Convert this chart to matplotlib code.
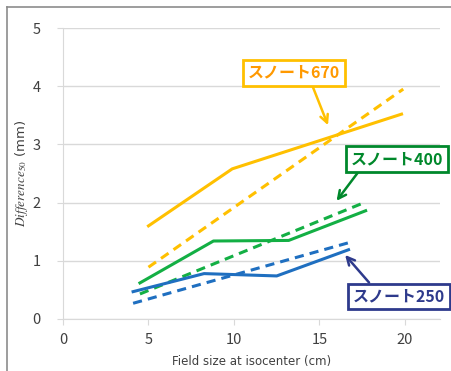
import matplotlib.pyplot as plt
from matplotlib.lines import Line2D

plt.rcParams['font.family'] = ['Noto Sans CJK JP', 'DejaVu Sans']
plt.rcParams['mathtext.fontset'] = 'stix'

# ---- data ----
orange_solid_x = [5.0, 9.9, 19.8]
orange_solid_y = [1.60, 2.58, 3.52]
orange_dash_x = [5.0, 19.9]
orange_dash_y = [0.89, 3.95]

green_solid_x = [4.5, 8.8, 13.2, 17.7]
green_solid_y = [0.62, 1.34, 1.35, 1.86]
green_dash_x = [4.5, 17.7]
green_dash_y = [0.43, 2.01]

blue_solid_x = [4.1, 8.25, 12.5, 16.7]
blue_solid_y = [0.47, 0.78, 0.74, 1.19]
blue_dash_x = [4.1, 16.7]
blue_dash_y = [0.27, 1.31]

x_ticks = [0, 5, 10, 15, 20]
y_ticks = [0, 1, 2, 3, 4, 5]

ORANGE = '#FFC000'
GREEN = '#13AF44'
BLUE = '#1F6FC0'

fig = plt.figure(figsize=(4.51, 3.71), dpi=100)
ax = fig.add_axes([63 / 451, 1 - 319 / 371, (440 - 63) / 451, (319 - 28) / 371])

lw = 2.2
ax.plot(orange_solid_x, orange_solid_y, color=ORANGE, lw=lw)
ax.plot(orange_dash_x, orange_dash_y, color=ORANGE, lw=lw, ls=(0, (3, 2)))
ax.plot(green_solid_x, green_solid_y, color=GREEN, lw=lw)
ax.plot(green_dash_x, green_dash_y, color=GREEN, lw=lw, ls=(0, (3, 2)))
ax.plot(blue_solid_x, blue_solid_y, color=BLUE, lw=lw)
ax.plot(blue_dash_x, blue_dash_y, color=BLUE, lw=lw, ls=(0, (3, 2)))

ax.set_xlim(0, 22.05)
ax.set_ylim(0, 5)
ax.set_xticks(x_ticks)
ax.set_yticks(y_ticks)
ax.grid(axis='y', color='#D9D9D9', lw=1)
ax.set_axisbelow(True)
for s in ['top', 'right']:
    ax.spines[s].set_visible(False)
ax.spines['left'].set_color('#D9D9D9')
ax.spines['bottom'].set_color('#D9D9D9')
ax.tick_params(axis='both', colors='#D9D9D9', labelcolor='#404040', labelsize=10.5, length=4)
ax.tick_params(axis='y', pad=12)
ax.tick_params(axis='x', pad=6)

ax.set_xlabel('Field size at isocenter (cm)', fontsize=8.5, color='#404040', labelpad=6,
              family='DejaVu Sans')
ax.set_ylabel(r'$\mathit{Difference}_{\mathit{50}}$ (mm)', fontsize=9.5, color='#404040',
              labelpad=2, family='DejaVu Sans')

# ---- annotation boxes with arrows ----
def label(text, xy, xytext, tcolor, ecolor, relpos):
    ax.annotate(text, xy=xy, xytext=xytext, textcoords='data',
                fontsize=11.5, fontweight='bold', color=tcolor, ha='center', va='center',
                bbox=dict(boxstyle='square,pad=0.3', fc='white', ec=ecolor, lw=2),
                arrowprops=dict(arrowstyle='->', color=ecolor, lw=1.8, relpos=relpos,
                                mutation_scale=14, shrinkA=0, shrinkB=0),
                annotation_clip=False)

label('スノート670', (15.5, 3.33), (13.5, 4.23), '#FF9900', ORANGE, (0.68, 0))
label('スノート400', (16.0, 2.03), (19.55, 2.75), '#00882B', '#00882B', (0.12, 0))
label('スノート250', (16.5, 1.10), (19.65, 0.39), '#2E3A8C', '#2E3A8C', (0.23, 1))

# outer border
fig.add_artist(Line2D([7 / 451, 1], [1 - 7 / 371, 1 - 7 / 371], color='#8C8C8C', lw=1.2))
fig.add_artist(Line2D([7 / 451, 7 / 451], [0, 1 - 7 / 371], color='#8C8C8C', lw=1.2))

fig.savefig('out.png', dpi=100)
